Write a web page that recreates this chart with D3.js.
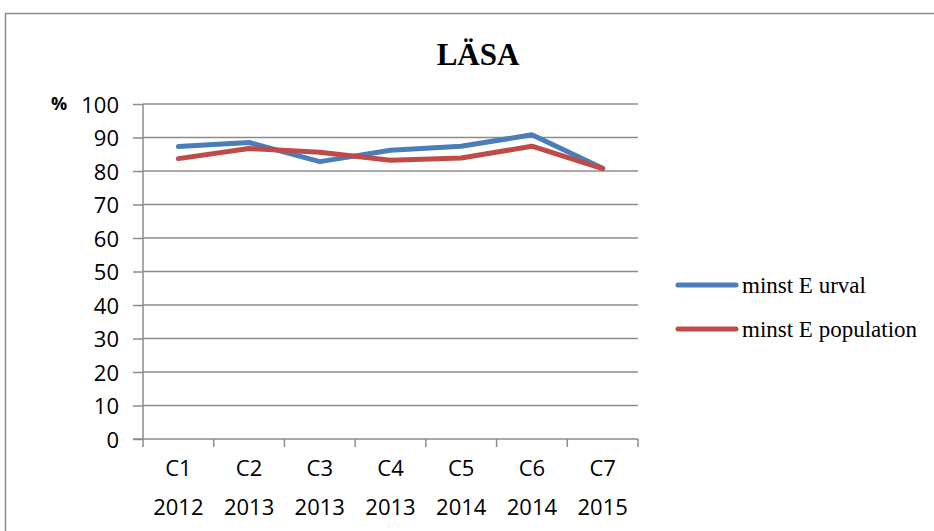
<!DOCTYPE html>
<meta charset="utf-8">
<style>
  body { margin: 0; background: #fff; }
  .grid line { stroke: #8c8c8c; stroke-width: 1.5; }
  .axis path, .axis line { stroke: #8c8c8c; stroke-width: 1.5; }
  .axis text { font-family: "Open Sans", sans-serif; font-size: 22px; fill: #000; }
</style>
<body>
<script src="https://d3js.org/d3.v7.min.js"></script>
<script>
  // categories (two-line labels)
  var categories = ["C1", "C2", "C3", "C4", "C5", "C6", "C7"]
  var years = ["2012", "2013", "2013", "2013", "2014", "2014", "2015"]

  // series values, percent
  var urval = [87.3, 88.5, 82.8, 86.2, 87.4, 90.8, 80.8]
  var population = [83.7, 86.7, 85.6, 83.2, 83.9, 87.4, 80.7]

  var yTicks = [0, 10, 20, 30, 40, 50, 60, 70, 80, 90, 100]

  var series = [
    { name: "minst E urval", values: urval, color: "#4a7ebb" },
    { name: "minst E population", values: population, color: "#be4b48" }
  ]

  var width = 934, height = 531
  var plot = { left: 143, right: 638, top: 104, bottom: 439 }

  var svg = d3.select("body").append("svg")
    .attr("width", width)
    .attr("height", height)

  // chart frame
  svg.append("rect")
    .attr("x", 5.5).attr("y", 13.5)
    .attr("width", 960).attr("height", 560)
    .attr("fill", "none")
    .attr("stroke", "#8c8c8c")
    .attr("stroke-width", 1.5)

  var x = d3.scaleBand().domain(categories).range([plot.left, plot.right])
  var y = d3.scaleLinear().domain([0, 100]).range([plot.bottom, plot.top])

  // gridlines
  svg.append("g").attr("class", "grid")
    .selectAll("line").data(yTicks.filter(function (d) { return d > 0 }))
    .enter().append("line")
    .attr("x1", plot.left).attr("x2", plot.right)
    .attr("y1", function (d) { return y(d) })
    .attr("y2", function (d) { return y(d) })

  // y axis
  var yAxis = svg.append("g").attr("class", "axis")
    .attr("transform", "translate(" + plot.left + ",0)")
    .call(d3.axisLeft(y).tickValues(yTicks).tickSize(10).tickPadding(14))
  yAxis.select(".domain").attr("d", "M0," + plot.top + "V" + plot.bottom)
  yAxis.selectAll(".tick text").attr("dy", "0.38em")

  // x axis, ticks at band boundaries
  var xAxis = svg.append("g").attr("class", "axis")
    .attr("transform", "translate(0," + plot.bottom + ")")
  xAxis.append("line")
    .attr("x1", plot.left - 10).attr("x2", plot.right)
  xAxis.selectAll(".xtick").data(d3.range(categories.length + 1))
    .enter().append("line")
    .attr("class", "xtick")
    .attr("x1", function (i) { return plot.left + i * x.step() })
    .attr("x2", function (i) { return plot.left + i * x.step() })
    .attr("y1", 0).attr("y2", 8)
  var labels = xAxis.selectAll("text.cat").data(categories)
    .enter().append("text")
    .attr("class", "cat")
    .attr("text-anchor", "middle")
  labels.append("tspan")
    .attr("x", function (d) { return x(d) + x.bandwidth() / 2 })
    .attr("y", 37)
    .text(function (d) { return d })
  labels.append("tspan")
    .attr("x", function (d) { return x(d) + x.bandwidth() / 2 })
    .attr("y", 76)
    .text(function (d, i) { return years[i] })

  // lines
  var line = d3.line()
    .x(function (d, i) { return x(categories[i]) + x.bandwidth() / 2 })
    .y(function (d) { return y(d) })

  svg.selectAll("path.series").data(series)
    .enter().append("path")
    .attr("class", "series")
    .attr("d", function (d) { return line(d.values) })
    .attr("fill", "none")
    .attr("stroke", function (d) { return d.color })
    .attr("stroke-width", 5)
    .attr("stroke-linejoin", "round")
    .attr("stroke-linecap", "round")

  // title
  svg.append("text")
    .attr("x", 478).attr("y", 65)
    .attr("text-anchor", "middle")
    .attr("font-family", "Liberation Serif, serif")
    .attr("font-weight", "bold")
    .attr("font-size", 31)
    .text("LÄSA")

  // y unit
  svg.append("text")
    .attr("x", 51).attr("y", 110)
    .attr("font-family", "Open Sans, sans-serif")
    .attr("font-weight", "bold")
    .attr("font-size", 18)
    .text("%")

  // legend
  var legend = svg.selectAll("g.legend").data(series)
    .enter().append("g")
    .attr("class", "legend")
    .attr("transform", function (d, i) { return "translate(678," + (285 + i * 44) + ")" })
  legend.append("line")
    .attr("x1", 0).attr("x2", 58)
    .attr("stroke", function (d) { return d.color })
    .attr("stroke-width", 5)
    .attr("stroke-linecap", "round")
  legend.append("text")
    .attr("x", 64).attr("y", 8)
    .attr("font-family", "Liberation Serif, serif")
    .attr("font-size", 23)
    .text(function (d) { return d.name })
</script>
</body>
